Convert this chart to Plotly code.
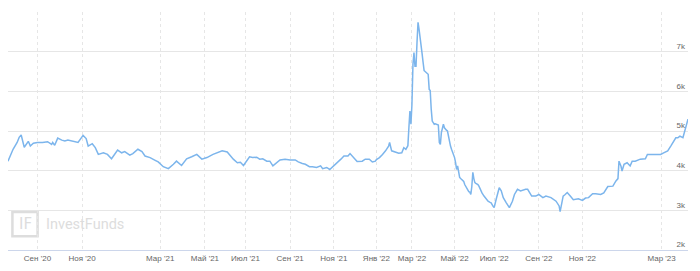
import plotly.graph_objects as go

dates = [
    "2020-07-22", "2020-07-29", "2020-08-04", "2020-08-06", "2020-08-10", "2020-08-13", "2020-08-19", "2020-08-21",
    "2020-08-26", "2020-09-01", "2020-09-08", "2020-09-15", "2020-09-21", "2020-09-22", "2020-09-24", "2020-09-29",
    "2020-10-05", "2020-10-08", "2020-10-13", "2020-10-19", "2020-10-22", "2020-10-27", "2020-11-03", "2020-11-09",
    "2020-11-11", "2020-11-17", "2020-11-20", "2020-11-25", "2020-12-02", "2020-12-08", "2020-12-14", "2020-12-22",
    "2020-12-28", "2020-12-31",
    "2021-01-15", "2021-01-20", "2021-01-27", "2021-02-02", "2021-02-05", "2021-02-12", "2021-02-19", "2021-02-25",
    "2021-03-04", "2021-03-12", "2021-03-19", "2021-03-24", "2021-03-31", "2021-04-07", "2021-04-14", "2021-04-21",
    "2021-04-28", "2021-05-06", "2021-05-17", "2021-05-24", "2021-05-28", "2021-06-04", "2021-06-15", "2021-06-21",
    "2021-06-24", "2021-06-29", "2021-07-07", "2021-07-12", "2021-07-16", "2021-07-21", "2021-07-26", "2021-07-30",
    "2021-08-04", "2021-08-09", "2021-08-13", "2021-08-18", "2021-08-25", "2021-09-01", "2021-09-08", "2021-09-13",
    "2021-09-17", "2021-09-22", "2021-09-28", "2021-10-01", "2021-10-07", "2021-10-13", "2021-10-15", "2021-10-21",
    "2021-10-26", "2021-10-29", "2021-11-09", "2021-11-12", "2021-11-17", "2021-11-23", "2021-11-25", "2021-11-30",
    "2021-12-02", "2021-12-06", "2021-12-13", "2021-12-16", "2021-12-22", "2021-12-27", "2021-12-30",
    "2022-01-10", "2022-01-13", "2022-01-18", "2022-01-21", "2022-01-26", "2022-01-27", "2022-01-31", "2022-02-03",
    "2022-02-09", "2022-02-14", "2022-02-16", "2022-02-18", "2022-02-21", "2022-02-22", "2022-02-24", "2022-02-25",
    "2022-02-28", "2022-03-01", "2022-03-02", "2022-03-03", "2022-03-04", "2022-03-09", "2022-03-10", "2022-03-11",
    "2022-03-14", "2022-03-15", "2022-03-16", "2022-03-17", "2022-03-18", "2022-03-21", "2022-03-22", "2022-03-23",
    "2022-03-24", "2022-03-25", "2022-03-28", "2022-03-29", "2022-03-30", "2022-03-31", "2022-04-01", "2022-04-04",
    "2022-04-05", "2022-04-06", "2022-04-07", "2022-04-08", "2022-04-11", "2022-04-12", "2022-04-13", "2022-04-14",
    "2022-04-15", "2022-04-18", "2022-04-19", "2022-04-20", "2022-04-21", "2022-04-22", "2022-04-25", "2022-04-26",
    "2022-04-27", "2022-04-28", "2022-04-29", "2022-05-04", "2022-05-05", "2022-05-06", "2022-05-11", "2022-05-12",
    "2022-05-13", "2022-05-16", "2022-05-17", "2022-05-18", "2022-05-19", "2022-05-20", "2022-05-23", "2022-05-24",
    "2022-05-25", "2022-05-26", "2022-05-27", "2022-05-30", "2022-05-31", "2022-06-01", "2022-06-02", "2022-06-03",
    "2022-06-06", "2022-06-08", "2022-06-09", "2022-06-10", "2022-06-14", "2022-06-15", "2022-06-17", "2022-06-20",
    "2022-06-22", "2022-06-23", "2022-06-27", "2022-06-28", "2022-06-30", "2022-07-01", "2022-07-05", "2022-07-08",
    "2022-07-12", "2022-07-14", "2022-07-19", "2022-07-22", "2022-07-27", "2022-07-29", "2022-08-03", "2022-08-08",
    "2022-08-15", "2022-08-17", "2022-08-23", "2022-08-29", "2022-09-01", "2022-09-07", "2022-09-12", "2022-09-19",
    "2022-09-26", "2022-09-29", "2022-09-30", "2022-10-04", "2022-10-05", "2022-10-07", "2022-10-11", "2022-10-14",
    "2022-10-19", "2022-10-26", "2022-11-01", "2022-11-07", "2022-11-10", "2022-11-16", "2022-11-21", "2022-11-28",
    "2022-12-01", "2022-12-07", "2022-12-14", "2022-12-19", "2022-12-21", "2022-12-22", "2022-12-26", "2022-12-27",
    "2022-12-29",
    "2023-01-10", "2023-01-13", "2023-01-17", "2023-01-20", "2023-01-27", "2023-02-03", "2023-02-07", "2023-02-14",
    "2023-02-21", "2023-02-28", "2023-03-03", "2023-03-10", "2023-03-15", "2023-03-17", "2023-03-22", "2023-03-24",
    "2023-03-28", "2023-03-31", "2023-04-04", "2023-04-07",
]

values = [
    4240, 4540, 4710, 4840, 4900, 4590, 4740, 4620,
    4690, 4710, 4710, 4730, 4660, 4710, 4640, 4820,
    4770, 4750, 4770, 4750, 4730, 4710, 4890, 4810,
    4620, 4680, 4580, 4410, 4450, 4410, 4300, 4520,
    4450, 4480,
    4390, 4430, 4540, 4480, 4370, 4330, 4260, 4220,
    4100, 4050, 4160, 4240, 4130, 4300, 4350, 4410,
    4290, 4330, 4410, 4450, 4500, 4470, 4290, 4200,
    4210, 4130, 4350, 4330, 4340, 4290, 4300, 4240,
    4240, 4120, 4200, 4270, 4290, 4270, 4270, 4220,
    4180, 4160, 4100, 4100, 4080, 4120, 4050, 4080,
    4030, 4100, 4200, 4290, 4370, 4370, 4430, 4330,
    4290, 4230, 4240, 4290, 4290, 4220, 4240,
    4280, 4330, 4410, 4500, 4620, 4710, 4500, 4470,
    4440, 4450, 4580, 4540, 4600, 4630, 5090, 5500,
    5170, 5670, 6680, 6980, 6630, 6630, 7230, 7740,
    7570, 7400, 7230, 6950, 6730, 6520, 6500, 6480,
    6470, 6430, 6050, 6020, 5550, 5250, 5210, 5170,
    5180, 5170, 5170, 5150, 4710, 4660, 4960, 5100,
    5170, 5080, 5040, 5020, 5000, 4850, 4710, 4620,
    4540, 4480, 4410, 4330, 4200, 4030, 4120, 3900,
    3830, 3800, 3780, 3750, 3730, 3650, 3600, 3550,
    3480, 3470, 3460, 3400, 3600, 3960, 3800, 3700,
    3680, 3650, 3610, 3550, 3470, 3440, 3360, 3320,
    3260, 3230, 3200, 3190, 3100, 3070, 3280, 3570,
    3490, 3320, 3190, 3070, 3230, 3400, 3530, 3490,
    3530, 3530, 3360, 3360, 3400, 3320, 3360, 3320,
    3230, 3110, 2970, 3270, 3360, 3400, 3450, 3360,
    3270, 3290, 3250, 3310, 3320, 3420, 3420, 3400,
    3440, 3600, 3610, 3740, 3800, 4240, 4110, 3990,
    4160,
    4200, 4120, 4240, 4240, 4290, 4300, 4410, 4410,
    4410, 4410, 4450, 4500, 4620, 4710, 4830, 4830,
    4870, 4830, 5000, 5300,
]

holidays = [
    "2020-11-04",
    "2021-01-01", "2021-01-04", "2021-01-05", "2021-01-06", "2021-01-07", "2021-01-08",
    "2021-02-23", "2021-03-08", "2021-05-03", "2021-05-10", "2021-06-14",
    "2021-11-04", "2021-11-05", "2021-12-31",
    "2022-01-03", "2022-01-04", "2022-01-05", "2022-01-06", "2022-01-07",
    "2022-02-23", "2022-03-07", "2022-03-08", "2022-05-02", "2022-05-03",
    "2022-05-09", "2022-05-10", "2022-06-13", "2022-11-04",
    "2023-01-02", "2023-01-03", "2023-01-04", "2023-01-05", "2023-01-06",
    "2023-02-23", "2023-02-24", "2023-03-08",
]

x_tick_dates = [
    "2020-09-01", "2020-11-02", "2021-03-01", "2021-05-04", "2021-07-01", "2021-09-01",
    "2021-11-01", "2022-01-10", "2022-03-01", "2022-05-04", "2022-07-01", "2022-09-01",
    "2022-11-01", "2023-03-01",
]
x_tick_labels = [
    "Сен '20", "Ноя '20", "Мар '21", "Май '21", "Июл '21", "Сен '21",
    "Ноя '21", "Янв '22", "Мар '22", "Май '22", "Июл '22", "Сен '22",
    "Ноя '22", "Мар '23",
]
y_tick_values = [2000, 3000, 4000, 5000, 6000, 7000, 8000]
y_tick_labels = ["2k", "3k", "4k", "5k", "6k", "7k", ""]

FONT = "Liberation Sans"
WM = "#dddddd"

fig = go.Figure()
fig.add_trace(go.Scatter(
    x=dates, y=values, mode="lines",
    line=dict(color="#7cb5ec", width=1.5),
    hoverinfo="skip", showlegend=False,
))

fig.update_layout(
    width=700, height=271,
    margin=dict(l=8, r=12, t=12, b=21),
    paper_bgcolor="white", plot_bgcolor="white",
    font=dict(family=FONT, size=8, color="#666666"),
    xaxis=dict(
        type="date",
        range=[dates[0], dates[-1]],
        rangebreaks=[dict(bounds=["sat", "mon"]), dict(values=holidays)],
        tickmode="array", tickvals=x_tick_dates, ticktext=x_tick_labels,
        showgrid=True, gridcolor="#e6e6e6", griddash="3px,3px", gridwidth=1,
        showline=True, linecolor="#ccd6eb", linewidth=1,
        ticks="", zeroline=False,
        tickfont=dict(family=FONT, size=8, color="#666666"),
    ),
    yaxis=dict(
        range=[2000, 8000],
        side="right",
        tickmode="array", tickvals=y_tick_values, ticktext=y_tick_labels,
        ticklabelposition="inside top",
        showgrid=True, gridcolor="#e6e6e6", gridwidth=1,
        zeroline=False, showline=False, ticks="",
        tickfont=dict(family=FONT, size=8, color="#666666"),
    ),
)

# watermark logo (box with "IF") and name
fig.add_shape(
    type="rect", xref="paper", yref="paper",
    x0=0.0065, x1=0.0435, y0=0.058, y1=0.160,
    line=dict(color=WM, width=2.5), fillcolor="rgba(0,0,0,0)", layer="below",
)
fig.add_annotation(
    xref="paper", yref="paper", x=0.025, y=0.109, xanchor="center", yanchor="middle",
    text="IF", showarrow=False,
    font=dict(family="DejaVu Sans", size=15, color=WM),
)
fig.add_annotation(
    xref="paper", yref="paper", x=0.053, y=0.107, xanchor="left", yanchor="middle",
    text="InvestFunds", showarrow=False,
    font=dict(family="Roboto", size=14.5, color=WM),
)

fig.write_html("out.html")
